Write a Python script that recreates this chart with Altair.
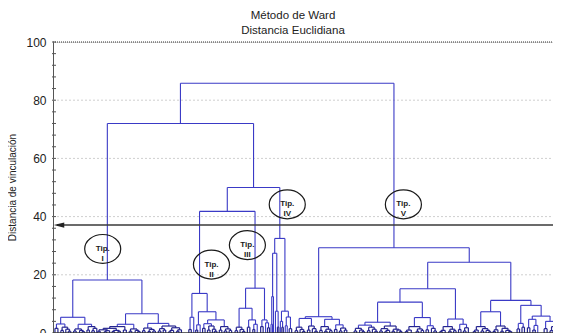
import altair as alt
import pandas as pd

# ---- data: dendrogram (Ward, Euclidean) ----
# nested merges: (linkage height, left subtree, right subtree); a bare number is a leaf (its order position)
tip_i = (18.2,
  (5.4,
    (3.1, (1.6, 55, 58), (2.0, (0.9, 61, 63.5), (1.3, 66, (0.6, 68.5, 71)))),
    (3.0,
      (1.4, (0.7, 74, 76.5), (0.9, 80, (0.5, 82.5, 85))),
      (2.2, (1.0, 87.5, 90), (1.6, (0.8, 92.5, 95), 97.5)))),
  (6.6,
    (3.0,
      (2.2,
        (1.6, (1.1, (0.6, 98.5, 101), (0.8, (0.4, 105, 107.5), 110.5)),
              (0.9, (0.5, 113, 115.5), (0.6, 119, 121.5))),
        (1.0, 124.5, 127.5)),
      (1.4, (0.6, 130.5, 133), (0.9, 136.5, (0.5, 139, 141.5)))),
    (3.3,
      (1.7, (0.8, 144, 146.5), (1.2, (0.5, 149.5, 152), (0.7, 154.5, 157))),
      (2.4,
        (1.5, (0.7, 160, 162.5), (1.0, 165, 167.5)),
        (1.8, (0.9, (0.4, 170.5, 173), 175.5), (1.1, (0.6, 178.5, 181), 183.5))))))

tip_ii = (13.6,
  (5.4, (1.2, 191, 193.5), 196),
  (7.3,
    (2.8, (1.0, 198, 200), 202.5),
    (4.5,
      (3.2, (1.6, 205, 207.5), (2.4, (1.0, 210, 212.5), (1.3, 215, (0.6, 217, 219.5)))),
      (2.2, (1.0, 222, 224.5), (1.4, (0.7, 227, 229.5), (0.9, 232, 234.5))))))

tip_iii = (15.4,
  (8.5,
    (2.0, (0.8, 238, 240.5), (1.2, 243, (0.5, 245.5, 248))),
    (4.5, (2.0, 250.5, 253), (3.0, (1.2, 256, 258), 260.5))),
  (4.5, (2.2, 264, 266.5), (3.5, 269, (1.8, 271, 273))))

tip_iv = (32.5,
  (27.4, (12.5, (3.0, 274.5, 276), 277), (7.5, 279, (2.0, 281, 282.5))),
  (7.5, (4.0, 284, (2.0, 285.5, 287)), (5.5, (2.5, 289, 291), (1.5, 293, 295.5))))

tip_v = (29.3,
  (5.6,
    (5.0,
      (2.0, (0.8, 299, 301.5), (1.2, 304, (0.5, 306.5, 309))),
      (2.4, (1.0, 311.5, 314), (1.5, 316.5, (0.6, 319, 321.5)))),
    (4.7,
      (2.2, (0.9, 324, 326.5), (1.3, (0.6, 329, 331.5), (0.8, 334, 336.5))),
      (2.8, (1.2, 339, 341.5), (1.7, (0.7, 344, 346.5), (1.0, 349, 351.5))))),
  (24.3,
    (15.2,
      (10.6,
        (3.7,
          (2.7,
            (1.6, (0.7, 359, 361.5), (1.0, 364.5, (0.5, 367, 369.5))),
            (2.0, (0.8, 372.5, 375), (1.3, 377.5, (0.6, 380, 382.5)))),
          (2.4,
            (1.5, (0.7, 385, 387.5), (0.9, (0.4, 390, 392.5), 395)),
            (1.3, (0.6, 397.5, 400), (1.0, 402.5, (0.5, 405, 407.5))))),
        (5.3,
          (2.2, (1.0, (0.5, 411, 413.5), 417), (1.4, (0.6, 422, 424.5), (0.9, 427, 429.5))),
          (2.5, (1.1, 432, 434.5), (1.6, 437.5, (0.7, 440, 442.5))))),
      (4.8,
        (2.2, (0.9, (0.5, 446, 448.5), 451.5), (1.3, (0.6, 455, 457.5), (0.8, 460, 462.5))),
        (3.0, (1.2, 465, 467.5), (1.8, (0.7, 470, 472.5), 475)))),
    (11.2,
      (7.3,
        (2.2, (1.0, (0.5, 480, 482.5), 485), (1.5, (0.7, 488, 490.5), (0.9, 493, (0.4, 495.5, 498)))),
        (2.4, (1.1, (0.5, 500, 502.5), 505), (1.6, (0.6, 508, 510.5), (0.9, 513, (0.5, 516, 519))))),
      (9.5,
        (3.3, (1.4, 524.5, 527), (2.0, 529.5, 532)),
        (5.8,
          (4.7, (1.8, 535, 537.5), (2.6, (1.0, 540.5, 543), 545.5)),
          (4.0, (1.5, 552, 555), (2.2, (0.8, 558, 561), (1.2, 564, 567))))))))

h_root = 85.8
h_left = 72.0
h_ii_iii_iv = 50.0
h_ii_iii = 41.8

cut_height = 37.1

tip_names = ["Tip.\nI", "Tip.\nII", "Tip.\nIII", "Tip.\nIV", "Tip.\nV"]
tip_x = [103.5, 214, 250.5, 291, 409]
tip_y = [28.9, 23.5, 30.2, 44.2, 44.2]

y_ticks = [0, 20, 40, 60, 80, 100]
minor_ticks = list(range(0, 101, 4))
grid_values = [20, 40, 60, 80]

tree = (h_root, (h_left, tip_i, (h_ii_iii_iv, (h_ii_iii, tip_ii, tip_iii), tip_iv)), tip_v)

# ---- build segments ----
segs = []
def layout(node):
    if not isinstance(node, tuple):
        return float(node), 0.0
    h, l, r = node
    xl, hl = layout(l)
    xr, hr = layout(r)
    segs.append(dict(x=xl, x2=xl, y=hl, y2=h))
    segs.append(dict(x=xl, x2=xr, y=h, y2=h))
    segs.append(dict(x=xr, x2=xr, y=hr, y2=h))
    return (xl + xr) / 2, h

layout(tree)
seg_df = pd.DataFrame(segs)
low_df = seg_df[seg_df["y2"] < 2.5]
high_df = seg_df[seg_df["y2"] >= 2.5]

X0, X1 = 53, 561
xs = alt.Scale(domain=[X0, X1], nice=False, zero=False)
ys = alt.Scale(domain=[0, 100], nice=False)
FONT = "Liberation Sans"

grid = alt.Chart(pd.DataFrame({"v": grid_values})).mark_rule(
    color="#cfcfcf", strokeWidth=1, strokeDash=[2, 2]
).encode(y=alt.Y("v:Q", scale=ys), x=alt.value(0), x2=alt.value(500))

top = alt.Chart(pd.DataFrame({"v": [100]})).mark_rule(
    color="#333333", strokeWidth=1.2, strokeDash=[1, 1]
).encode(y=alt.Y("v:Q", scale=ys), x=alt.value(0), x2=alt.value(500))

lines = alt.Chart(high_df).mark_rule(color="#3a3ac6", strokeWidth=1.1, clip=True).encode(
    x=alt.X("x:Q", scale=xs, axis=None),
    x2="x2:Q",
    y=alt.Y("y:Q", scale=ys, axis=alt.Axis(
        values=y_ticks, title="Distancia de vinculación", grid=False, ticks=False,
        domainColor="#555555", labelFontSize=12, labelFont=FONT, labelColor="#222222",
        labelPadding=7, titleFont=FONT, titleFontSize=10, titleFontWeight="normal",
        titleColor="#222222", titleX=-41, titleY=145, titleAlign="center",
        titleBaseline="middle", titleAngle=270)),
    y2="y2:Q",
)

low_lines = alt.Chart(low_df).mark_rule(color="#24248f", strokeWidth=1.2, clip=True).encode(
    x=alt.X("x:Q", scale=xs), x2="x2:Q", y=alt.Y("y:Q", scale=ys), y2="y2:Q")

baseline = alt.Chart(pd.DataFrame({"v": [0]})).mark_rule(color="#333333", strokeWidth=1.5).encode(
    y=alt.Y("v:Q", scale=ys), x=alt.value(0), x2=alt.value(500))

ticks = alt.Chart(pd.DataFrame({"v": minor_ticks})).mark_rule(color="#555555", strokeWidth=1).encode(
    y=alt.Y("v:Q", scale=ys), x=alt.value(-1), x2=alt.value(3))

cut = alt.Chart(pd.DataFrame({"v": [cut_height]})).mark_rule(color="#3a3a3a", strokeWidth=1.4).encode(
    y=alt.Y("v:Q", scale=ys), x=alt.value(4), x2=alt.value(500))

arrow = alt.Chart(pd.DataFrame({"v": [cut_height]})).mark_point(
    shape="M -1 0 L 1 -0.5 L 1 0.5 Z", filled=True, size=110, color="#222222", opacity=1
).encode(y=alt.Y("v:Q", scale=ys), x=alt.value(6))

tips = pd.DataFrame({"name": tip_names, "x": tip_x, "y": tip_y})
ell = "M -1 0 C -1 -0.442 -0.552 -0.8 0 -0.8 C 0.552 -0.8 1 -0.442 1 0 C 1 0.442 0.552 0.8 0 0.8 C -0.552 0.8 -1 0.442 -1 0 Z"
ellipses = alt.Chart(tips).mark_point(
    shape=ell, filled=False, size=1300, color="#1a1a1a", strokeWidth=1.2, opacity=1
).encode(x=alt.X("x:Q", scale=xs), y=alt.Y("y:Q", scale=ys))

labels = alt.Chart(tips).mark_text(
    font=FONT, fontSize=8, fontWeight="bold", color="#1a1a1a", lineBreak="\n", lineHeight=10,
    baseline="middle", align="center"
).encode(x=alt.X("x:Q", scale=xs), y=alt.Y("y:Q", scale=ys), text="name:N")

chart = alt.layer(grid, top, lines, low_lines, baseline, ticks, cut, arrow, ellipses, labels).properties(
    width=500, height=291,
    title=alt.TitleParams(text=["Método de Ward", "Distancia Euclidiana"], font=FONT, fontSize=11.5,
                          fontWeight="normal", color="#222222", anchor="middle", dx=-10,
                          dy=6, offset=6, lineHeight=15),
    autosize=alt.AutoSizeParams(type="none"),
    padding={"left": 45, "top": 34, "right": 0, "bottom": 0},
).configure_view(stroke=None).configure(background="white")

chart.save("out.html", embed_options={"renderer": "svg", "actions": False})
